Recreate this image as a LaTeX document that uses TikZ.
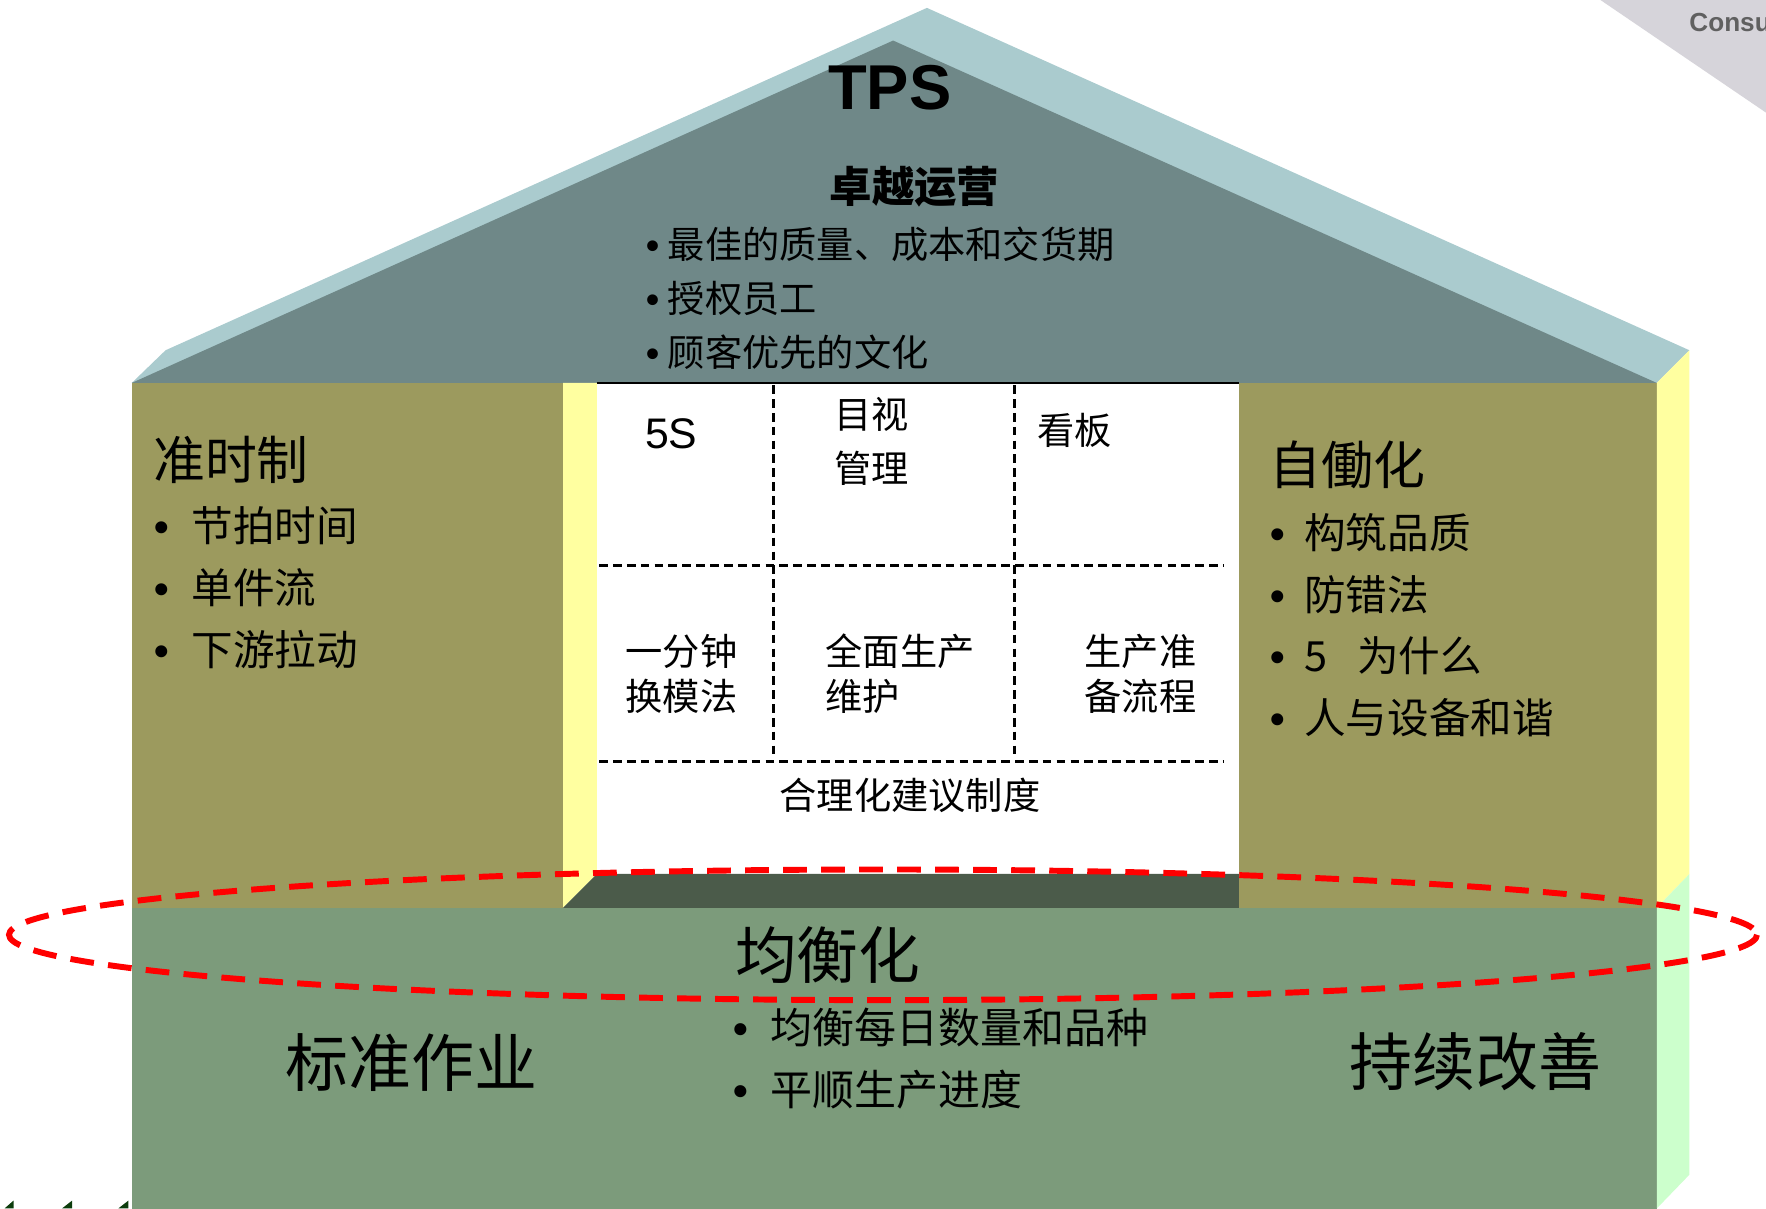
\documentclass[tikz,border=0pt]{standalone}
\usepackage{fontspec}
\setmainfont{Noto Sans CJK SC}
\newfontfamily\arialfont{Liberation Sans}
\definecolor{roofback}{RGB}{170,203,206}
\definecolor{roofface}{RGB}{111,136,136}
\definecolor{olive}{RGB}{156,154,94}
\definecolor{sideyellow}{RGB}{255,255,160}
\definecolor{floordark}{RGB}{75,91,74}
\definecolor{basegreen}{RGB}{124,155,123}
\definecolor{sidegreen}{RGB}{204,255,204}
\definecolor{cornergray}{RGB}{214,212,218}
\definecolor{cornertext}{RGB}{96,96,96}
\definecolor{markgreen}{RGB}{12,60,12}
\newcommand\myfs[1]{\fontsize{#1}{#1}\selectfont}
\newcommand\bul[1]{\makebox[#1][l]{\arialfont\bfseries •}}
\begin{document}
\begin{tikzpicture}[x=0.01cm,y=-0.01cm,
  every node/.style={inner sep=0pt,outer sep=0pt},
  title/.style={font=\arialfont\bfseries\myfs{16pt}},
  roofhead/.style={font=\bfseries\myfs{10.7pt}},
  roofitem/.style={anchor=west,font=\myfs{9.4pt}},
  pillarhead/.style={anchor=west,font=\myfs{13.1pt}},
  pillaritem/.style={anchor=west,font=\myfs{10.5pt}},
  celltext/.style={font=\fontsize{9.4pt}{11.4pt}\selectfont},
  basehead/.style={font=\myfs{15.6pt}},
  baseitem/.style={anchor=west,font=\myfs{10.6pt}},
  gridline/.style={black,line width=0.65pt,dash pattern=on 2.2pt off 1.3pt},
  ringline/.style={red,line width=1.5pt,dash pattern=on 6pt off 3.6pt}]
\useasboundingbox (0,0) rectangle (1568,1073);

% corner decoration
\begin{scope}
\clip (0,0) rectangle (1568,1073);
\fill[cornergray] (1421,0) -- (1568,0) -- (1568,100) -- cycle;
\node[anchor=west,font=\arialfont\bfseries\myfs{6.6pt},text=cornertext] (logo) at (1500,20) {Consu};
\end{scope}

% roof
\fill[roofback] (117,340) -- (147,311) -- (823,7) -- (1500,311) -- (1471,340) -- cycle;
\fill[roofface] (117,340) -- (793,36) -- (1471,340) -- cycle;

% pillars and centre
\fill[olive] (117,340) rectangle (500,806);
\fill[sideyellow] (500,340) -- (530,340) -- (530,776) -- (500,806) -- cycle;
\fill[white] (530,340) rectangle (1100,776);
\fill[floordark] (500,806) -- (530,776) -- (1100,776) -- (1100,806) -- cycle;
\fill[olive] (1100,340) rectangle (1471,806);
\fill[sideyellow] (1471,340) -- (1500,311) -- (1500,776) -- (1471,806) -- cycle;

% base
\fill[basegreen] (117,806) rectangle (1471,1080);
\fill[sidegreen] (1471,806) -- (1500,776) -- (1500,1043) -- (1471,1073) -- cycle;

% small marks bottom left
\fill[markgreen] (4,1073) -- (12,1066) -- (12,1073) -- cycle;
\fill[markgreen] (55,1073) -- (64,1066) -- (64,1073) -- cycle;
\fill[markgreen] (105,1073) -- (114,1066) -- (114,1073) -- cycle;

% grid
\draw[black,line width=0.5pt] (530,340) -- (1100,340);
\draw[gridline] (687,342) -- (687,670);
\draw[gridline] (901,342) -- (901,670);
\draw[gridline] (532,502) -- (1087,502);
\draw[gridline] (532,676) -- (1087,676);

% roof texts
\node[title] (tps) at (790,78) {TPS};
\node[roofhead] (excel) at (812,166) {卓越运营};
\node[roofitem] (r1) at (574,217) {\bul{1.9mm}最佳的质量、成本和交货期};
\node[roofitem] (r2) at (574,265) {\bul{1.9mm}授权员工};
\node[roofitem] (r3) at (574,313) {\bul{1.9mm}顾客优先的文化};

% left pillar
\node[pillarhead] (jit) at (136,408) {准时制};
\node[pillaritem] (l1) at (137,467) {\bul{3.3mm}节拍时间};
\node[pillaritem] (l2) at (137,522) {\bul{3.3mm}单件流};
\node[pillaritem] (l3) at (137,577) {\bul{3.3mm}下游拉动};

% right pillar
\node[pillarhead] (jidoka) at (1127,413) {自働化};
\node[pillaritem] (p1) at (1128,473) {\bul{3.0mm}构筑品质};
\node[pillaritem] (p2) at (1128,528) {\bul{3.0mm}防错法};
\node[pillaritem] (p3) at (1128,582) {\bul{3.0mm}\makebox[4.7mm][l]{5}为什么};
\node[pillaritem] (p4) at (1128,637) {\bul{3.0mm}人与设备和谐};

% grid cells
\node[font=\arialfont\myfs{10.8pt}] (fives) at (596,385) {5S};
\node[celltext,align=left,font=\fontsize{9.4pt}{13.66pt}\selectfont] (visual) at (774,392) {目视\\管理};
\node[celltext] (kanban) at (954,382) {看板};
\node[celltext,align=left] (smed) at (605,598) {一分钟\\换模法};
\node[celltext,align=left,anchor=west] (tpm) at (733,598) {全面生产\\维护};
\node[celltext,align=left,anchor=west] (prep) at (963,598) {生产准\\备流程};
\node[celltext] (sugg) at (808,706) {合理化建议制度};

% base texts
\node[basehead] (heijunka) at (735,848) {均衡化};
\node[basehead,font=\myfs{15.9pt}] (std) at (365,943) {标准作业};
\node[basehead,font=\myfs{15.9pt}] (kaizen) at (1310,943) {持续改善};
\node[baseitem] (b1) at (651,912) {\bul{3.3mm}均衡每日数量和品种};
\node[baseitem] (b2) at (651,967) {\bul{3.3mm}平顺生产进度};

% red dashed ring
\draw[ringline] (784,830) ellipse [x radius=776, y radius=58];
\end{tikzpicture}
\end{document}
